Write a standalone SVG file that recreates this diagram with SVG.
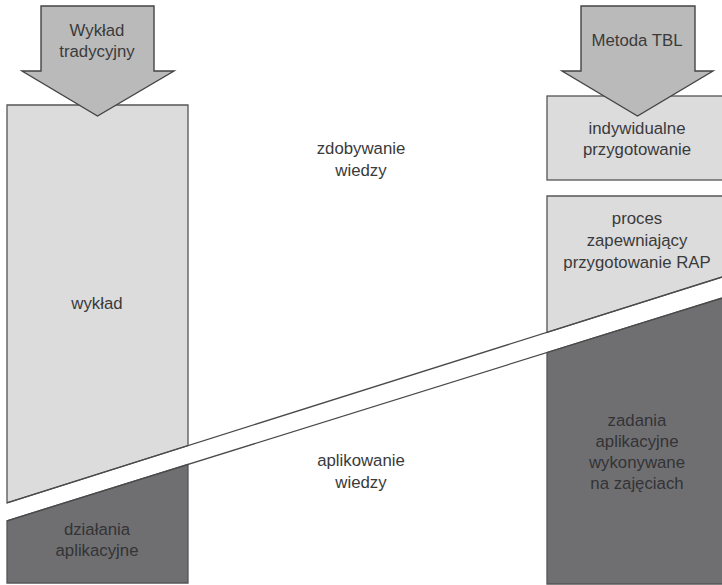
<svg xmlns="http://www.w3.org/2000/svg" width="722" height="585" viewBox="0 0 722 585">
<style>
.light{fill:#dcdcdd;stroke:#555;stroke-width:1.3}
.dark{fill:#6f6f72;stroke:#555;stroke-width:1.3}
.arrow{fill:#bababa;stroke:#444;stroke-width:1.4;stroke-linejoin:miter}
.band{fill:none;stroke:#4a4a4a;stroke-width:1.3}
text{font-family:"Liberation Sans",Arial,sans-serif;font-size:16.8px;fill:#3a3a3a;text-anchor:middle}
text.ondark{fill:#333335}
</style>
<rect width="722" height="585" fill="#ffffff"/>
<g id="box-wyklad">
<polygon class="light" points="7,105 188,105 188,445.6 7,502.8"/>
<text x="97" y="309">wykład</text>
</g>
<g id="box-dzialania">
<polygon class="dark" points="7,520.8 188,464.4 188,583 7,583"/>
<text class="ondark" x="97" y="535">działania</text>
<text class="ondark" x="97" y="556">aplikacyjne</text>
</g>
<g id="box-indywidualne">
<rect class="light" x="547" y="96" width="180" height="84"/>
<text x="637" y="134">indywidualne</text>
<text x="637" y="155">przygotowanie</text>
</g>
<g id="box-proces">
<polygon class="light" points="547,196 727,196 727,275.4 547,332.3"/>
<text x="637" y="224">proces</text>
<text x="637" y="246">zapewniający</text>
<text x="637" y="268">przygotowanie RAP</text>
</g>
<g id="box-zadania">
<polygon class="dark" points="547,352.5 727,296.5 727,584 547,584"/>
<text class="ondark" x="637" y="426">zadania</text>
<text class="ondark" x="637" y="447">aplikacyjne</text>
<text class="ondark" x="637" y="468">wykonywane</text>
<text class="ondark" x="637" y="489">na zajęciach</text>
</g>
<g id="arrow-wyklad">
<polygon class="arrow" points="41,6 154,6 154,71 174,71 97.5,116 22,71 41,71"/>
<text x="97" y="36">Wykład</text>
<text x="97" y="57">tradycyjny</text>
</g>
<g id="arrow-tbl">
<polygon class="arrow" points="581,6 695,6 695,71 713,71 637.5,116 562,71 581,71"/>
<text x="637" y="46">Metoda TBL</text>
</g>
<g id="connectors">
<line class="band" x1="7" y1="502.8" x2="722" y2="277"/>
<line class="band" x1="7" y1="520.8" x2="722" y2="298"/>
</g>
<g id="label-zdobywanie">
<text x="361" y="154">zdobywanie</text>
<text x="361" y="176">wiedzy</text>
</g>
<g id="label-aplikowanie">
<text x="361" y="466">aplikowanie</text>
<text x="361" y="488">wiedzy</text>
</g>
</svg>
